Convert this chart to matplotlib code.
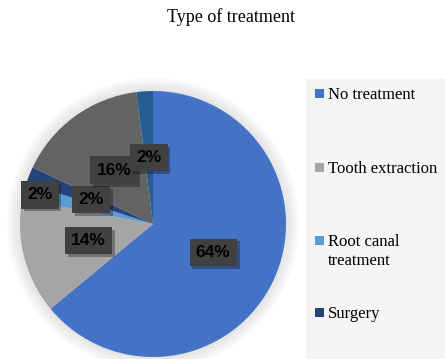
import matplotlib
matplotlib.use("Agg")
import matplotlib.pyplot as plt
import matplotlib.patches as mpatches
import matplotlib.patheffects as pe
import numpy as np

categories = ["No treatment", "Tooth extraction", "Root canal\ntreatment", "Surgery", "Other 1", "Other 2"]
values = [64, 14, 2, 2, 16, 2]
colors = ["#4472C4", "#A5A5A5", "#5B9BD5", "#264478", "#636363", "#255E91"]
legend_count = 4
label_radius = [0.5, 0.5, 0.88, 0.5, 0.5, 0.5]

W, H = 445, 359
fig = plt.figure(figsize=(W / 100, H / 100), dpi=100)
fig.patch.set_facecolor("white")

# legend background
fig.add_artist(mpatches.Rectangle((306 / W, 0), 1 - 306 / W, 1 - 79 / H,
                                  transform=fig.transFigure, facecolor="#F5F5F5",
                                  edgecolor="none", zorder=0))

cx, cy, R = 153, 224, 133
half = 150
lim = half / R
ax = fig.add_axes([(cx - half) / W, (H - cy - half) / H, 2 * half / W, 2 * half / H])
ax.axis("off")

# glow around the pie
for r, c in [(1.095, "#F8F8F8"), (1.07, "#F1F1F1"), (1.045, "#EBEBEB"), (1.02, "#E5E5E5")]:
    ax.add_patch(mpatches.Circle((0, 0), r, facecolor=c, edgecolor="none", zorder=0))

wedges, _ = ax.pie(values, colors=colors, startangle=90, counterclock=False,
                   radius=1.0, wedgeprops=dict(linewidth=0))
ax.set_xlim(-lim, lim)
ax.set_ylim(-lim, lim)
ax.set_aspect("equal")

total = sum(values)
for w, v, rr in zip(wedges, values, label_radius):
    ang = np.deg2rad((w.theta1 + w.theta2) / 2)
    t = ax.text(rr * np.cos(ang), rr * np.sin(ang), f"{round(100 * v / total)}%",
                ha="center", va="center", fontsize=12.5, fontweight="bold",
                family="Liberation Sans", color="black", zorder=5,
                bbox=dict(boxstyle="square,pad=0.36", facecolor="#404040",
                          edgecolor="none", linewidth=0))
    t.get_bbox_patch().set_path_effects([pe.SimplePatchShadow(offset=(2, -2), shadow_rgbFace="#000000", alpha=0.3),
                                         pe.Normal()])

fig.text(231 / W, 1 - 17 / H, "Type of treatment", ha="center", va="center",
         fontsize=13, family="Liberation Serif", color="black")

# legend entries
entry_y = [93, 167, 240, 312]
line_step = 19
for i in range(legend_count):
    y = entry_y[i]
    fig.add_artist(mpatches.Rectangle((315 / W, 1 - (y + 4.5) / H), 9 / W, 9 / H,
                                      transform=fig.transFigure, facecolor=colors[i],
                                      edgecolor="none", zorder=2))
    for j, line in enumerate(categories[i].split("\n")):
        fig.text(328 / W, 1 - (y + j * line_step) / H, line, ha="left", va="center_baseline",
                 fontsize=12, family="Liberation Serif", color="black")

fig.savefig("out.png", dpi=100)
